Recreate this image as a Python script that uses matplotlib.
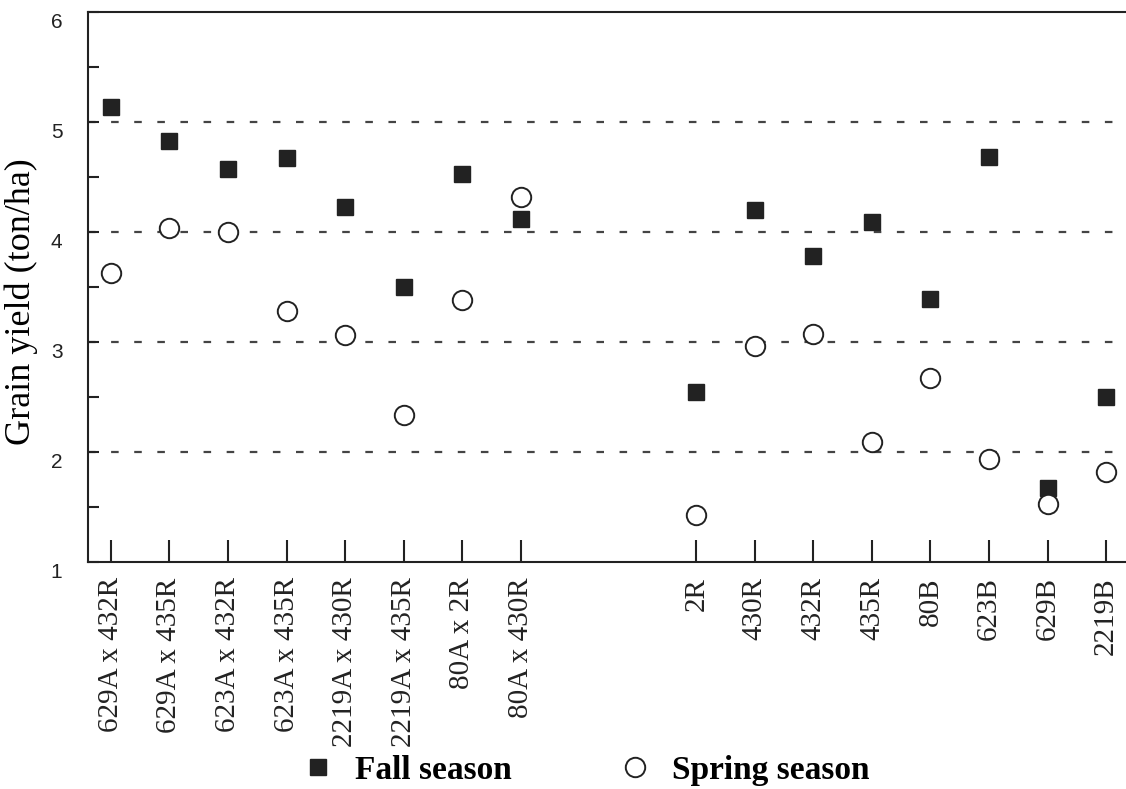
import matplotlib
matplotlib.use("Agg")
import matplotlib.pyplot as plt
import matplotlib.transforms as mtransforms
import numpy as np

categories = ["629A x 432R", "629A x 435R", "623A x 432R", "623A x 435R",
              "2219A x 430R", "2219A x 435R", "80A x 2R", "80A x 430R",
              "2R", "430R", "432R", "435R", "80B", "623B", "629B", "2219B"]
fall = [5.14, 4.83, 4.57, 4.67, 4.23, 3.50, 4.53, 4.12,
        2.55, 4.20, 3.78, 4.09, 3.39, 4.68, 1.67, 2.50]
spring = [3.63, 4.04, 4.00, 3.28, 3.06, 2.34, 3.38, 4.32,
          1.43, 2.96, 3.07, 2.09, 2.67, 1.94, 1.53, 1.82]
positions = [0, 1, 2, 3, 4, 5, 6, 7, 10, 11, 12, 13, 14, 15, 16, 17]
yticks = [1, 2, 3, 4, 5, 6]
gridlines = [2, 3, 4, 5]

fig = plt.figure(figsize=(11.26, 7.89), dpi=100)
ax = fig.add_axes([87.5/1126, 1-562/789, 1-87.5/1126, (562-12)/789])

for g in gridlines:
    ax.axhline(g, color="#444444", lw=1.6, dashes=(3.4, 7.0), zorder=1)

ax.plot(positions, fall, ls="none", marker="s", ms=12, mfc="#222222",
        mec="#222222", label="Fall season", zorder=3)
ax.plot(positions, spring, ls="none", marker="o", ms=14, mfc="white",
        mec="#222222", mew=1.4, label="Spring season", zorder=3)

ax.set_xlim(-0.4, 17.34)
ax.set_ylim(1, 6)
ax.spines["right"].set_visible(False)
for s in ["left", "top", "bottom"]:
    ax.spines[s].set_linewidth(1.5)
    ax.spines[s].set_color("#222222")

ax.set_xticks(positions)
ax.set_xticklabels(categories, rotation=90, family="Liberation Serif",
                   fontsize=21, va="top")
ax.tick_params(axis="x", direction="in", length=16, width=1.5, pad=11,
               colors="#222222")
ax.set_yticks(yticks)
ax.set_yticklabels([str(v) for v in yticks], family="Liberation Sans", fontsize=15)
ax.set_yticks(np.arange(1.5, 6, 1.0), minor=True)
ax.tick_params(axis="y", which="both", direction="in", length=8, width=1.5,
               pad=18, colors="#222222")
offset = mtransforms.ScaledTranslation(0, -8/100, fig.dpi_scale_trans)
for lab in ax.get_yticklabels():
    lab.set_transform(lab.get_transform() + offset)

ax.set_ylabel("Grain yield (ton/ha)", family="Liberation Serif", fontsize=26)
ax.yaxis.set_label_coords(-0.0477, 0.473)

leg = fig.legend(loc="center", bbox_to_anchor=(0.52, 0.024), ncol=2,
                 frameon=False, prop={"family": "Liberation Serif",
                                      "weight": "bold", "size": 24},
                 handlelength=1.0, handletextpad=0.6, columnspacing=3.2,
                 markerscale=1.0)

fig.savefig("out.png", dpi=100, facecolor="white")
